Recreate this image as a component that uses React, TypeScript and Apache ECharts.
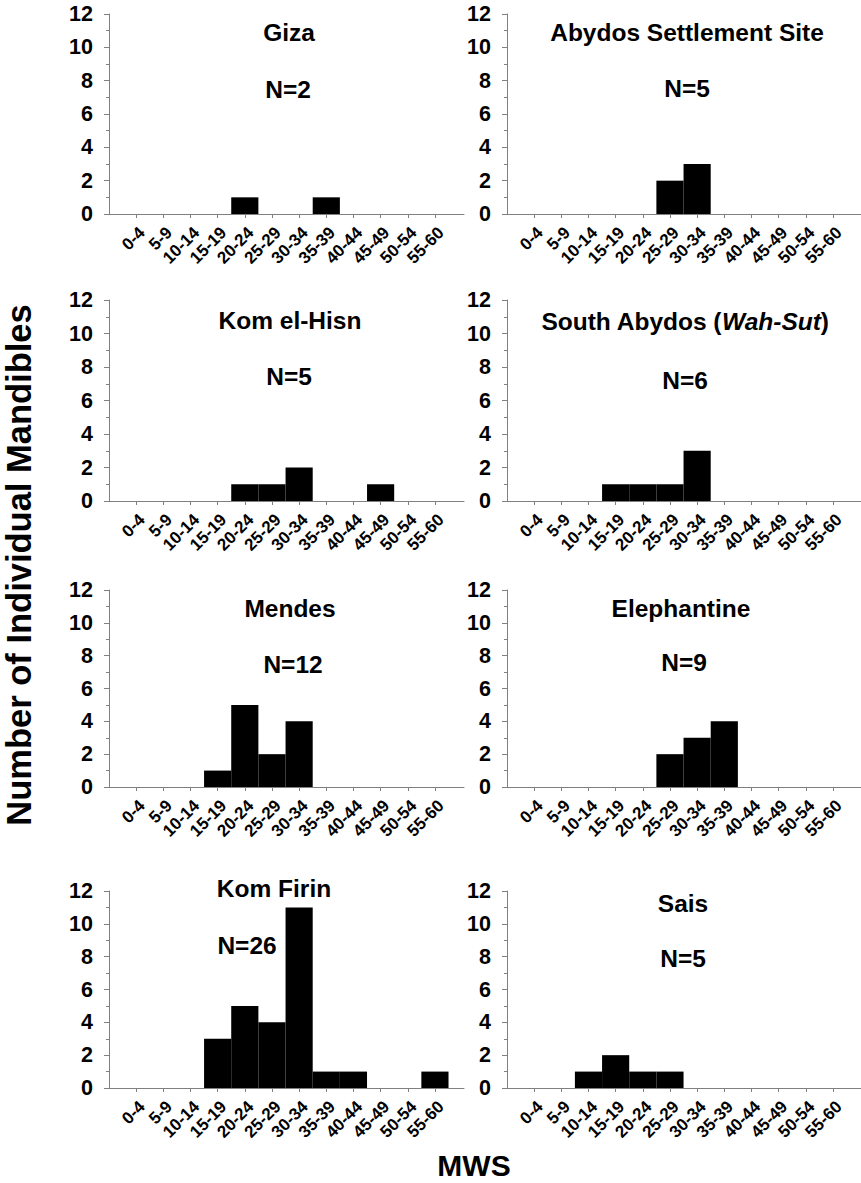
import React, { useEffect, useRef } from "react";
import * as echarts from "echarts";

const BINS = ["0-4", "5-9", "10-14", "15-19", "20-24", "25-29", "30-34", "35-39", "40-44", "45-49", "50-54", "55-60"];
const SITES = ["Giza", "Abydos Settlement Site", "Kom el-Hisn", "South Abydos (Wah-Sut)", "Mendes", "Elephantine", "Kom Firin", "Sais"];
const N_LABELS = ["N=2", "N=5", "N=5", "N=6", "N=12", "N=9", "N=26", "N=5"];

const giza = [0, 0, 0, 0, 1, 0, 0, 1, 0, 0, 0, 0];
const abydosSettlement = [0, 0, 0, 0, 0, 2, 3, 0, 0, 0, 0, 0];
const komElHisn = [0, 0, 0, 0, 1, 1, 2, 0, 0, 1, 0, 0];
const southAbydos = [0, 0, 0, 1, 1, 1, 3, 0, 0, 0, 0, 0];
const mendes = [0, 0, 0, 1, 5, 2, 4, 0, 0, 0, 0, 0];
const elephantine = [0, 0, 0, 0, 0, 2, 3, 4, 0, 0, 0, 0];
const komFirin = [0, 0, 0, 3, 5, 4, 11, 1, 1, 0, 0, 1];
const sais = [0, 0, 1, 2, 1, 1, 0, 0, 0, 0, 0, 0];

const COUNTS = [giza, abydosSettlement, komElHisn, southAbydos, mendes, elephantine, komFirin, sais];

const Y_MIN = 0;
const Y_MAX = 12;
const Y_STEP = 2;

const FONT = "'Liberation Sans', Arial, sans-serif";
const AXIS_GRAY = "#808080";

// layout (px)
const COL_LEFT = [109, 507];
const GRID_W = 355;
const ROW_TOP = [14, 300, 590, 891];
const ROW_H = [200, 201, 197, 197];
const SLOTS = 13.07;
const BAR_W = GRID_W / SLOTS;
const TITLE_SIZE = 24.5;

const TITLE_POS = [
  [289, 32, 288, 89],
  [687, 32, 687, 88],
  [290, 320, 289, 376],
  [685, 321, 685, 380],
  [290, 608, 293, 664],
  [681, 608, 684, 662],
  [274, 888, 247, 945],
  [683, 903, 683, 958],
];

export default function App() {
  const ref = useRef<HTMLDivElement>(null);

  useEffect(() => {
    if (!ref.current) return;
    const chart = echarts.init(ref.current, undefined, { renderer: "svg" });

    const grids: any[] = [];
    const xAxes: any[] = [];
    const yAxes: any[] = [];
    const series: any[] = [];
    const graphics: any[] = [];

    const tickVals = BINS.map((_, i) => i + 1);

    COUNTS.forEach((counts, i) => {
      const row = Math.floor(i / 2);
      const col = i % 2;
      grids.push({
        left: COL_LEFT[col],
        top: ROW_TOP[row],
        width: GRID_W,
        height: ROW_H[row],
        containLabel: false,
        outerBoundsMode: "none",
      });
      xAxes.push({
        type: "value",
        gridIndex: i,
        min: 0,
        max: SLOTS,
        axisLine: { show: true, lineStyle: { color: AXIS_GRAY, width: 1 } },
        axisTick: { show: true, length: 4, customValues: tickVals, lineStyle: { color: AXIS_GRAY } },
        axisLabel: {
          show: true,
          customValues: tickVals,
          formatter: (v: number) => BINS[Math.round(v) - 1] ?? "",
          rotate: 45,
          align: "right",
          verticalAlign: "top",
          fontSize: 17,
          fontWeight: "bold",
          fontFamily: FONT,
          color: "#000",
          margin: 10,
        },
        splitLine: { show: false },
      });
      yAxes.push({
        type: "value",
        gridIndex: i,
        min: Y_MIN,
        max: Y_MAX,
        interval: Y_STEP,
        axisLine: { show: true, lineStyle: { color: AXIS_GRAY, width: 1 } },
        axisTick: { show: true, length: 5, inside: false, lineStyle: { color: AXIS_GRAY } },
        minorTick: { show: true, splitNumber: 2, length: 3, lineStyle: { color: AXIS_GRAY } },
        axisLabel: {
          fontSize: 21.5,
          fontWeight: "bold",
          fontFamily: FONT,
          color: "#000",
          margin: 16,
        },
        splitLine: { show: false },
        minorSplitLine: { show: false },
      });
      series.push({
        type: "bar",
        xAxisIndex: i,
        yAxisIndex: i,
        barWidth: BAR_W,
        itemStyle: { color: "#000" },
        data: counts.map((c, k) => [k + 1, c]),
      });

      const [tx, ty, nx, ny] = TITLE_POS[i];
      const name = SITES[i];
      const m = name.match(/^(.*\()(.*)(\))$/);
      if (m) {
        graphics.push({
          type: "text",
          x: tx,
          y: ty,
          style: {
            text: `{a|${m[1]}}{b|${m[2]}}{a|${m[3]}}`,
            align: "center",
            verticalAlign: "middle",
            rich: {
              a: { fontSize: TITLE_SIZE, fontWeight: "bold", fontFamily: FONT, fill: "#000", color: "#000" },
              b: { fontSize: TITLE_SIZE, fontWeight: "bold", fontStyle: "italic", fontFamily: FONT, fill: "#000", color: "#000" },
            },
          },
        });
      } else {
        graphics.push({
          type: "text",
          x: tx,
          y: ty,
          style: { text: name, fontSize: TITLE_SIZE, fontWeight: "bold", fontFamily: FONT, fill: "#000", align: "center", verticalAlign: "middle" },
        });
      }
      graphics.push({
        type: "text",
        x: nx,
        y: ny,
        style: { text: N_LABELS[i], fontSize: TITLE_SIZE, fontWeight: "bold", fontFamily: FONT, fill: "#000", align: "center", verticalAlign: "middle" },
      });
    });

    graphics.push({
      type: "text",
      x: 19,
      y: 565,
      rotation: Math.PI / 2,
      style: {
        text: "Number of Individual Mandibles",
        fontSize: 34.5,
        fontWeight: "bold",
        fontFamily: FONT,
        fill: "#000",
        align: "center",
        verticalAlign: "middle",
      },
    });
    graphics.push({
      type: "text",
      x: 474,
      y: 1165,
      style: { text: "MWS", fontSize: 30, fontWeight: "bold", fontFamily: FONT, fill: "#000", align: "center", verticalAlign: "middle" },
    });

    chart.setOption({
      animation: false,
      backgroundColor: "#fff",
      grid: grids,
      xAxis: xAxes,
      yAxis: yAxes,
      series,
      graphic: graphics,
    });

    return () => chart.dispose();
  }, []);

  return <div ref={ref} style={{ position: "fixed", left: 0, top: 0, width: 861, height: 1183 }} />;
}
